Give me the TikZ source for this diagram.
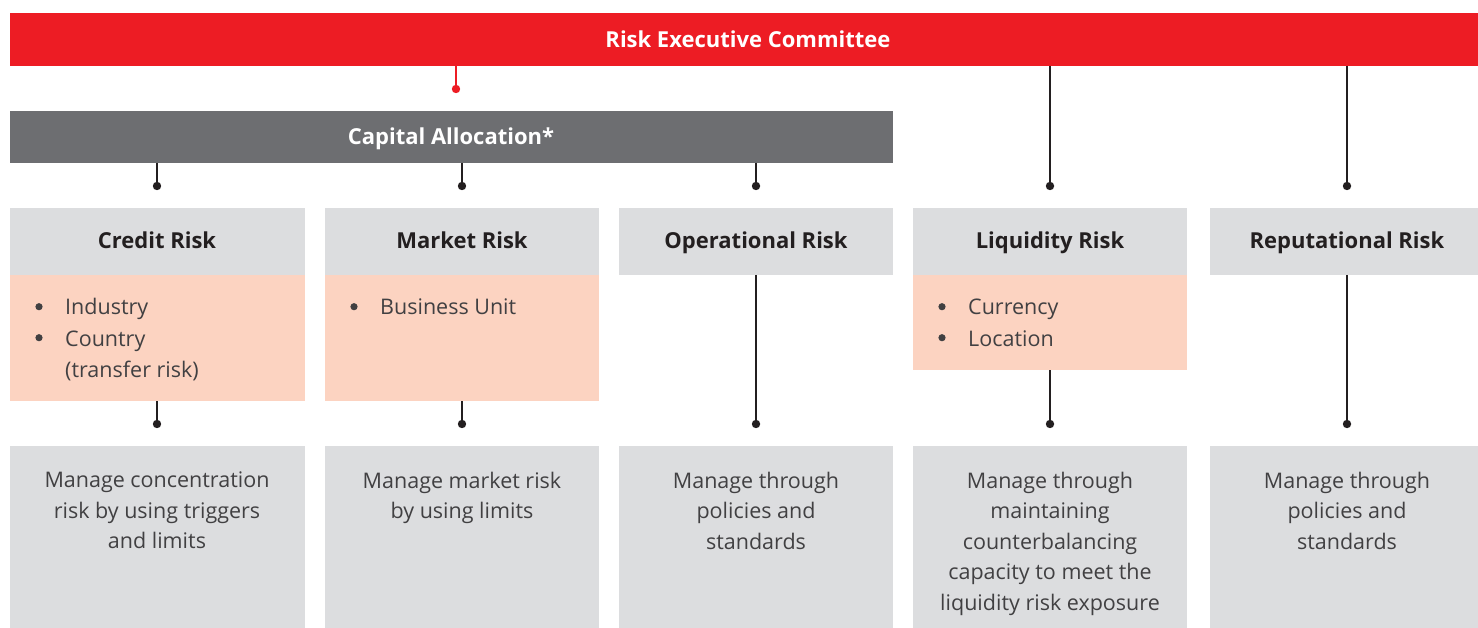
\documentclass[tikz,border=0pt]{standalone}
\usepackage{fontspec}
\setmainfont{Open Sans}
\definecolor{riskred}{HTML}{ED1C24}
\definecolor{capgray}{HTML}{6D6E71}
\definecolor{boxgray}{HTML}{DCDDDF}
\definecolor{peach}{HTML}{FCD3C1}
\definecolor{txt}{HTML}{414042}
\definecolor{head}{HTML}{231F20}
\begin{document}
\begin{tikzpicture}[x=1pt,y=-1pt,
  box/.style={rectangle,draw=none,inner sep=0pt,outer sep=0pt,anchor=north west},
  bartext/.style={font=\fontsize{22}{26}\selectfont\bfseries,text=white,inner sep=0pt,anchor=base},
  headtext/.style={font=\fontsize{22}{26}\selectfont\bfseries,text=head,inner sep=0pt,anchor=base},
  bodytext/.style={font=\fontsize{21.5}{30.4}\selectfont,text=txt,inner sep=0pt,anchor=north,align=center},
  itemtext/.style={font=\fontsize{21.5}{26}\selectfont,text=txt,inner sep=0pt,anchor=base west},
  link/.style={line width=1.3pt,draw=head},
  dot/.style={fill=head},
  bullet/.style={fill=txt}
]
\useasboundingbox (0,0) rectangle (1478,628);
% top bars
\node[box,fill=riskred,minimum width=1468,minimum height=53] (rec) at (10,13) {};
\node[bartext] (rect) at (748,48) {Risk Executive Committee};
\node[box,fill=capgray,minimum width=883,minimum height=52] (cap) at (10,111) {};
\node[bartext] (capt) at (451,145) {Capital Allocation*};
% red connector
\coordinate (rd) at (456,89);
\draw[line width=1.3pt,riskred] (rd |- rec.south) -- (rd);
\fill[riskred] (rd) circle (4.2);
% header and bottom boxes
\foreach \n/\x/\w in {cr/10/295, mk/325/274, op/619/274, lq/913/274, rp/1210/268}{
  \node[box,fill=boxgray,minimum width=\w,minimum height=67] (\n h) at (\x,208) {};
  \node[box,fill=boxgray,minimum width=\w,minimum height=182] (\n b) at (\x,446) {};
}
\node[headtext] (crht) at (157,249) {Credit Risk};
\node[headtext] (mkht) at (462,249) {Market Risk};
\node[headtext] (opht) at (756,249) {Operational Risk};
\node[headtext] (lqht) at (1050,249) {Liquidity Risk};
\node[headtext] (rpht) at (1347,249) {Reputational Risk};
% peach boxes
\node[box,fill=peach,minimum width=295,minimum height=126] (crp) at (10,275) {};
\node[box,fill=peach,minimum width=274,minimum height=126] (mkp) at (325,275) {};
\node[box,fill=peach,minimum width=274,minimum height=95] (lqp) at (913,275) {};
% bullet items
\foreach \bx/\by/\t/\nm in {39/315/Industry/ci1, 39/346/Country/ci2, 354/315/Business Unit/mi1, 942/315/Currency/li1, 942/346/Location/li2}{
  \node[itemtext] (\nm) at (\bx+26,\by) {\t};
  \fill[bullet] (\bx,\by-8.3) circle (3.6);
}
\node[itemtext] (ci3) at (65,377) {(transfer risk)};
% connectors level 1
\foreach \x/\n in {157/c1,462/c2,756/c3}{
  \coordinate (\n) at (\x,186);
  \draw[link] (\n |- cap.south) -- (\n);
  \fill[dot] (\n) circle (4.2);
}
\foreach \x/\n in {1050/c4,1347/c5}{
  \coordinate (\n) at (\x,186);
  \draw[link] (\n |- rec.south) -- (\n);
  \fill[dot] (\n) circle (4.2);
}
% connectors level 2
\coordinate (d1) at (157,424);
\coordinate (d2) at (462,424);
\coordinate (d3) at (756,424);
\coordinate (d4) at (1050,424);
\coordinate (d5) at (1347,424);
\draw[link] (d1 |- crp.south) -- (d1);
\draw[link] (d2 |- mkp.south) -- (d2);
\draw[link] (d3 |- oph.south) -- (d3);
\draw[link] (d4 |- lqp.south) -- (d4);
\draw[link] (d5 |- rph.south) -- (d5);
\foreach \n in {d1,d2,d3,d4,d5} \fill[dot] (\n) circle (4.2);
% bottom texts
\node[bodytext] (crt) at (157,472) {Manage concentration\\risk by using triggers\\and limits};
\node[bodytext] (mkt) at (462,472) {Manage market risk\\by using limits};
\node[bodytext] (opt) at (756,472) {Manage through\\policies and\\standards};
\node[bodytext] (lqt) at (1050,472) {Manage through\\maintaining\\counterbalancing\\capacity to meet the\\liquidity risk exposure};
\node[bodytext] (rpt) at (1347,472) {Manage through\\policies and\\standards};
\end{tikzpicture}
\end{document}
